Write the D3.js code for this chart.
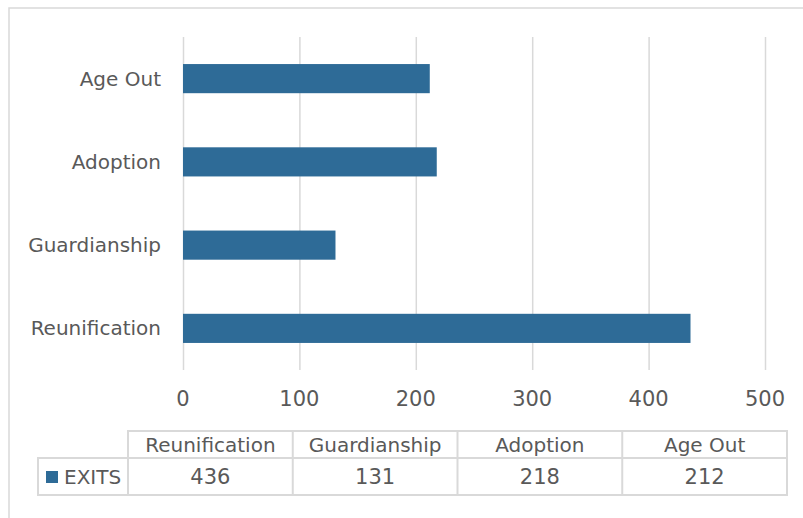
<html>
<head>
<meta charset="UTF-8"/>
<script src="https://d3js.org/d3.v7.min.js"></script>
<title>Exits</title>
<style>
body{ margin:0; background:#fff; }
svg{ font-family: "DejaVu Sans", sans-serif; }
.grid line{ stroke:#d9d9d9; stroke-width:1.5; }
.grid path{ display:none; }
.lbl{ fill:#595959; }
</style>
</head>
<body>
<svg id='chart' width=803 height=518></svg>
<script>
'use strict';
var categories = ['Reunification', 'Guardianship', 'Adoption', 'Age Out'];
var exits = [436, 131, 218, 212];
var seriesName = 'EXITS';
var xTicks = [0, 100, 200, 300, 400, 500];

var svg = d3.select('#chart');
var grey = '#d9d9d9';
var barColor = '#2e6b97';

// chart frame
svg.append('rect').attr('x', 9).attr('y', 8).attr('width', 820).attr('height', 530)
    .attr('fill', 'none').attr('stroke', grey).attr('stroke-width', 1.5);

var sx = d3.scaleLinear().domain([0, 500]).range([183, 765]);
var sy = d3.scaleBand().domain(categories.slice().reverse()).range([37, 370]).paddingInner(0.65).paddingOuter(0.325);

var xAxis = d3.axisBottom(sx).tickValues(xTicks).tickSize(-333).tickPadding(0);
var gx = svg.append('g').attr('class', 'grid').attr('transform', 'translate(0,370)').call(xAxis);
gx.selectAll('text').remove();

// tick labels
svg.selectAll('.tick-lbl').data(xTicks).enter().append('text')
    .attr('class', 'lbl').attr('x', function(d){ return sx(d); }).attr('y', 406)
    .attr('text-anchor', 'middle').attr('font-size', 21)
    .text(function(d){ return d; });

// category labels
svg.selectAll('.cat').data(categories).enter().append('text')
    .attr('class', 'lbl').attr('x', 161)
    .attr('y', function(d){ return sy(d) + sy.bandwidth() / 2; })
    .attr('dy', '0.35em').attr('text-anchor', 'end').attr('font-size', 20)
    .text(function(d){ return d; });

// bars
svg.selectAll('.bar').data(categories).enter().append('rect')
    .attr('x', sx(0))
    .attr('y', function(d){ return sy(d); })
    .attr('height', sy.bandwidth())
    .attr('width', function(d, i){ return sx(exits[i]) - sx(0); })
    .attr('fill', barColor);

// data table
var tx = d3.scaleBand().domain(categories).range([128, 787]);
var rowTop = 431, rowMid = 458, rowBot = 495;
var tbl = svg.append('g').attr('stroke', grey).attr('stroke-width', 2).attr('fill', 'none');
tbl.append('rect').attr('x', 128).attr('y', rowTop).attr('width', 659).attr('height', rowMid - rowTop);
tbl.append('rect').attr('x', 38).attr('y', rowMid).attr('width', 749).attr('height', rowBot - rowMid);
tbl.selectAll('.div').data(categories).enter().append('line')
    .attr('x1', function(d){ return tx(d); }).attr('x2', function(d){ return tx(d); })
    .attr('y1', rowTop).attr('y2', rowBot);

svg.selectAll('.hdr').data(categories).enter().append('text')
    .attr('class', 'lbl').attr('x', function(d){ return tx(d) + tx.bandwidth() / 2; })
    .attr('y', (rowTop + rowMid) / 2).attr('dy', '0.35em').attr('text-anchor', 'middle').attr('font-size', 20)
    .text(function(d){ return d; });

svg.selectAll('.val').data(exits).enter().append('text')
    .attr('class', 'lbl').attr('x', function(d, i){ return tx(categories[i]) + tx.bandwidth() / 2; })
    .attr('y', (rowMid + rowBot) / 2).attr('dy', '0.35em').attr('text-anchor', 'middle').attr('font-size', 21)
    .text(function(d){ return d; });

svg.append('rect').attr('x', 46).attr('y', 471).attr('width', 12).attr('height', 12).attr('fill', barColor);
svg.append('text').attr('class', 'lbl').attr('x', 64).attr('y', (rowMid + rowBot) / 2).attr('dy', '0.35em')
    .attr('font-size', 20).text(seriesName);
</script>
</body>
</html>
